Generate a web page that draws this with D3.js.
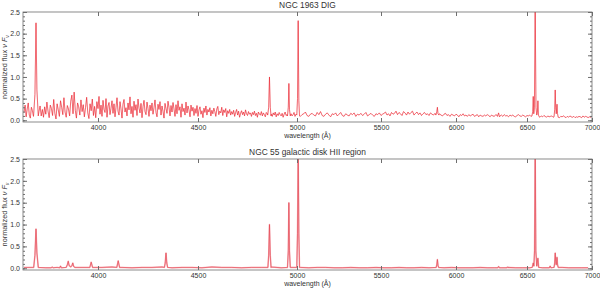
<!DOCTYPE html>
<html>
<head>
<meta charset="utf-8">
<script src="https://cdn.jsdelivr.net/npm/d3@7/dist/d3.min.js"></script>
<style>
  body { margin: 0; background: #fff; }
  text { font-family: "Liberation Sans", Arial, Helvetica, sans-serif; fill: #333; }
</style>
</head>
<body>
<div id="chart"></div>
<script>
// ---- data ----
// top panel, blue part: every 5 A from 3670 A
const topBlueStart = 3670, topBlueStep = 5;
const topBlueFlux = [
  0.18, 0.35, 0.08, 0.26, 0.40, 0.12, 0.05, 0.30, 0.22, 0.09, 0.28, 0.15, 0.36, 0.04, 0.20, 0.33, 0.10, 0.25, 0.07, 0.31,
  0.14, 0.42, 0.21, 0.06, 0.35, 0.27, 0.11, 0.48, 0.16, 0.03, 0.38, 0.24, 0.09, 0.45, 0.30, 0.13, 0.52, 0.19, 0.07, 0.34,
  0.26, 0.10, 0.44, 0.58, 0.15, 0.65, 0.23, 0.05, 0.40, 0.31, 0.12, 0.47, 0.20, 0.36, 0.08, 0.29, 0.53, 0.17, 0.04, 0.38,
  0.22, 0.49, 0.11, 0.32, 0.06, 0.43, 0.27, 0.55, 0.14, 0.35, 0.09, 0.46, 0.25, 0.18, 0.50, 0.07, 0.33, 0.41, 0.13, 0.28,
  0.45, 0.16, 0.38, 0.08, 0.30, 0.52, 0.21, 0.12, 0.43, 0.26, 0.05, 0.37, 0.48, 0.19, 0.29, 0.10, 0.40, 0.24, 0.54, 0.15,
  0.32, 0.07, 0.44, 0.23, 0.36, 0.11, 0.49, 0.28, 0.17, 0.39, 0.06, 0.31, 0.46, 0.20, 0.13, 0.42, 0.27, 0.09, 0.35, 0.22,
  0.40, 0.14, 0.29, 0.47, 0.18, 0.08, 0.37, 0.25, 0.43, 0.12, 0.33, 0.21, 0.05, 0.39, 0.27, 0.16, 0.44, 0.30, 0.10, 0.34,
  0.19, 0.41, 0.26, 0.09, 0.36, 0.15, 0.45, 0.23, 0.31, 0.07, 0.38, 0.20, 0.28, 0.12, 0.42, 0.17, 0.33, 0.24, 0.08, 0.35,
  0.21, 0.30, 0.11, 0.27, 0.16, 0.34, 0.09, 0.24, 0.31, 0.14, 0.22, 0.06, 0.28, 0.18, 0.33, 0.12, 0.25, 0.19, 0.29, 0.10,
  0.23, 0.15, 0.28, 0.20, 0.09, 0.26, 0.32, 0.13, 0.21, 0.17, 0.30, 0.11, 0.24, 0.18, 0.27, 0.08, 0.22, 0.16, 0.25, 0.12,
  0.20, 0.14, 0.23, 0.09, 0.18, 0.25, 0.12, 0.21, 0.07, 0.16, 0.22, 0.13, 0.19, 0.10, 0.24, 0.15, 0.11, 0.20, 0.14, 0.17,
  0.09, 0.18, 0.13, 0.21, 0.11, 0.16, 0.07, 0.19, 0.14, 0.12, 0.20, 0.10, 0.17, 0.13, 0.08, 0.18, 0.15, 0.11, 0.16, 0.12,
  0.14, 0.09, 0.17, 0.12, 0.19, 0.08, 0.15, 0.11, 0.18, 0.13, 0.10, 0.16, 0.07, 0.14, 0.19, 0.11, 0.13, 0.09, 0.17, 0.12,
  0.15, 0.10, 0.13, 0.18, 0.09, 0.14
];
// top panel, red part: every 10 A from 5000 A
const topRedStart = 5000, topRedStep = 10;
const topRedFlux = [
  0.12, 0.17, 0.09, 0.13, 0.15, 0.19, 0.11, 0.09, 0.14, 0.16,
  0.12, 0.10, 0.18, 0.13, 0.20, 0.11, 0.09, 0.14, 0.17, 0.12,
  0.08, 0.15, 0.13, 0.17, 0.10, 0.14, 0.18, 0.11, 0.09, 0.15,
  0.12, 0.10, 0.16, 0.13, 0.17, 0.09, 0.14, 0.12, 0.16, 0.11,
  0.14, 0.18, 0.10, 0.13, 0.16, 0.12, 0.09, 0.15, 0.13, 0.17,
  0.11, 0.14, 0.16, 0.19, 0.12, 0.15, 0.10, 0.18, 0.14, 0.16,
  0.21, 0.13, 0.18, 0.15, 0.11, 0.20, 0.17, 0.12, 0.19, 0.14,
  0.18, 0.21, 0.12, 0.16, 0.19, 0.13, 0.17, 0.11, 0.15, 0.18,
  0.13, 0.15, 0.11, 0.17, 0.14, 0.12, 0.16, 0.10, 0.14, 0.15,
  0.12, 0.10, 0.14, 0.16, 0.11, 0.13, 0.09, 0.14, 0.12, 0.10,
  0.14, 0.12, 0.08, 0.13, 0.11, 0.15, 0.10, 0.12, 0.09, 0.13,
  0.10, 0.12, 0.14, 0.09, 0.11, 0.13, 0.08, 0.12, 0.10, 0.09,
  0.12, 0.10, 0.13, 0.11, 0.08, 0.12, 0.10, 0.09, 0.13, 0.11,
  0.08, 0.10, 0.12, 0.09, 0.13, 0.10, 0.11, 0.08, 0.12, 0.10,
  0.12, 0.09, 0.08, 0.11, 0.13, 0.10, 0.09, 0.12, 0.10, 0.08,
  0.11, 0.10, 0.12, 0.09, 0.11, 0.08, 0.10, 0.12, 0.09, 0.09,
  0.07, 0.10, 0.08, 0.11, 0.09, 0.07, 0.10, 0.08, 0.09, 0.10,
  0.07, 0.08, 0.09, 0.11, 0.08, 0.06, 0.09, 0.08, 0.10, 0.08,
  0.06, 0.09, 0.07, 0.10, 0.08, 0.07, 0.09, 0.06, 0.08, 0.07,
  0.09, 0.08, 0.06, 0.10, 0.07, 0.09, 0.08, 0.06, 0.08, 0.07,
  0.09
];
// emission lines of the top panel: [wavelength, flux] profiles
const topLines = [
  [[3716, 0.15], [3722, 0.6], [3727, 2.25], [3731, 0.7], [3737, 0.1]],
  [[4852, 0.12], [4857, 0.3], [4861, 1.0], [4865, 0.3], [4869, 0.1]],
  [[4952, 0.1], [4956, 0.3], [4959, 0.85], [4962, 0.25], [4966, 0.1]],
  [[4999, 0.12], [5003, 0.5], [5007, 2.3], [5011, 0.45], [5015, 0.1]],
  [[5866, 0.12], [5872, 0.2], [5876, 0.3], [5880, 0.15], [5886, 0.12]],
  [[6292, 0.09], [6300, 0.17], [6306, 0.08]],
  [[6538, 0.1], [6544, 0.2], [6548, 0.55], [6552, 0.15], [6557, 0.3], [6563, 2.7],
   [6569, 0.3], [6575, 0.12], [6580, 0.18], [6584, 0.45], [6588, 0.12], [6594, 0.08]],
  [[6708, 0.08], [6713, 0.25], [6717, 0.7], [6721, 0.3], [6725, 0.15], [6731, 0.37],
   [6735, 0.15], [6740, 0.07]]
];

// bottom panel continuum, sampled every 50 A starting at 3670 A
const bottomStart = 3670, bottomStep = 50;
const bottomFlux = [
  0.02, 0.03, 0.01, 0.02, 0.03, 0.02, 0.01, 0.02, 0.03, 0.02,
  0.01, 0.02, 0.02, 0.03, 0.01, 0.02, 0.02, 0.01, 0.03, 0.02,
  0.02, 0.01, 0.02, 0.02, 0.03, 0.01, 0.02, 0.02, 0.01, 0.02,
  0.02, 0.01, 0.01, 0.02, 0.01, 0.01, 0.02, 0.01, 0.01, 0.02,
  0.01, 0.01, 0.02, 0.01, 0.01, 0.01, 0.02, 0.01, 0.01, 0.01,
  0.02, 0.01, 0.01, 0.01, 0.02, 0.01, 0.01, 0.01, 0.02, 0.01,
  0.01, 0.01, 0.02, 0.01, 0.01, 0.01, 0.01
];
const bottomLines = [
  [[3716, 0.02], [3722, 0.3], [3727, 0.9], [3731, 0.35], [3737, 0.02]],
  [[3794, 0.01], [3798, 0.03], [3802, 0.01]],
  [[3831, 0.01], [3835, 0.05], [3839, 0.01]],
  [[3860, 0.02], [3865, 0.08], [3869, 0.16], [3873, 0.06], [3880, 0.03],
   [3885, 0.06], [3889, 0.12], [3893, 0.04], [3898, 0.02]],
  [[3964, 0.02], [3970, 0.14], [3976, 0.02]],
  [[4094, 0.02], [4101, 0.17], [4108, 0.02]],
  [[4332, 0.02], [4336, 0.12], [4340, 0.35], [4344, 0.12], [4348, 0.02]],
  [[4853, 0.02], [4857, 0.3], [4861, 1.0], [4865, 0.3], [4869, 0.02]],
  [[4952, 0.02], [4956, 0.4], [4959, 1.5], [4962, 0.4], [4966, 0.02]],
  [[4999, 0.02], [5003, 0.8], [5007, 2.7], [5011, 0.8], [5015, 0.02]],
  [[5868, 0.02], [5872, 0.08], [5876, 0.2], [5880, 0.07], [5884, 0.02]],
  [[6294, 0.01], [6300, 0.04], [6306, 0.01]],
  [[6358, 0.01], [6363, 0.03], [6368, 0.01]],
  [[6540, 0.02], [6548, 0.12], [6553, 0.05], [6558, 0.4], [6563, 2.7], [6568, 0.4],
   [6575, 0.05], [6584, 0.23], [6590, 0.02]],
  [[6672, 0.01], [6678, 0.05], [6684, 0.01]],
  [[6708, 0.02], [6713, 0.12], [6717, 0.35], [6721, 0.15], [6725, 0.08], [6731, 0.25],
   [6735, 0.08], [6740, 0.02]]
];

const xTicks = [4000, 4500, 5000, 5500, 6000, 6500, 7000];
const yMajor = [0, 0.5, 1.0, 1.5, 2.0, 2.5];
const yMinor = d3.range(0, 26).map(d => d / 10);
// wavelength calibration read from the axis (non-linear, piecewise)
const xKnotsWl = [3665, 3727, 4000, 4500, 5000, 5500, 6000, 6500, 7000];

const panels = [
  { title: 'NGC 1963 DIG', top: 12, bottom: 122, lines: topLines,
    parts: [[topBlueStart, topBlueStep, topBlueFlux], [topRedStart, topRedStep, topRedFlux]],
    under: 0.7, underColor: '#f7a9b0', main: '#e8141f' },
  { title: 'NGC 55 galactic disk HII region', top: 159, bottom: 270, lines: bottomLines,
    parts: [[bottomStart, bottomStep, bottomFlux]],
    under: 1.5, underColor: '#f5aab2', main: '#e0303c' }
];

// ---- layout ----
const width = 600, height = 289;
const left = 23, right = 592;
const axisColor = '#6e6e6e';

const svg = d3.select('#chart').append('svg')
  .attr('width', width).attr('height', height)
  .attr('viewBox', `0 0 ${width} ${height}`);

const x = d3.scaleLinear()
  .domain(xKnotsWl)
  .range([left, 36, 98, 198, 297, 381, 456, 527, right]);

function buildSeries(p) {
  const cont = [];
  p.parts.forEach(([start, step, flux]) => {
    flux.forEach((f, i) => cont.push([start + i * step, f]));
  });
  const kept = cont.filter(([w]) => !p.lines.some(g => w >= g[0][0] && w <= g[g.length - 1][0]));
  return kept.concat(...p.lines).sort((a, b) => a[0] - b[0]);
}

panels.forEach((p, i) => {
  const y = d3.scaleLinear().domain([-0.04, 2.5]).range([p.bottom, p.top]);
  const g = svg.append('g');

  // title
  g.append('text')
    .attr('x', (left + right) / 2).attr('y', p.top - 4)
    .attr('text-anchor', 'middle')
    .attr('font-size', 8.4)
    .text(p.title);

  // clip
  g.append('clipPath').attr('id', `clip${i}`)
    .append('rect')
    .attr('x', left).attr('y', p.top)
    .attr('width', right - left).attr('height', p.bottom - p.top);

  const series = buildSeries(p);
  const line = d3.line().x(d => x(d[0])).y(d => y(d[1]));
  const plot = g.append('g').attr('clip-path', `url(#clip${i})`);
  plot.append('path')
    .attr('d', line(series))
    .attr('fill', 'none')
    .attr('stroke', p.underColor)
    .attr('stroke-width', p.under)
    .attr('stroke-linejoin', 'round');
  plot.append('path')
    .attr('d', line(series))
    .attr('fill', 'none')
    .attr('stroke', p.main)
    .attr('stroke-width', 0.5)
    .attr('stroke-linejoin', 'round');

  // axes (ticks point inward)
  const ax = (sel) => sel.call(s => s.select('.domain').remove())
    .call(s => s.selectAll('line').attr('stroke', axisColor))
    .call(s => s.selectAll('text').attr('font-size', 7).attr('fill', '#333')
      .attr('font-family', '"Liberation Sans", Arial, sans-serif'));

  g.append('g').attr('transform', `translate(${left},0)`)
    .call(d3.axisLeft(y).tickValues(yMinor).tickSize(-2).tickFormat('')).call(ax);
  g.append('g').attr('transform', `translate(${left},0)`)
    .call(d3.axisLeft(y).tickValues(yMajor).tickSize(-4).tickPadding(3).tickFormat(d3.format('.1f'))).call(ax);
  g.append('g').attr('transform', `translate(${right},0)`)
    .call(d3.axisRight(y).tickValues(yMinor).tickSize(-2).tickFormat('')).call(ax);
  g.append('g').attr('transform', `translate(${right},0)`)
    .call(d3.axisRight(y).tickValues(yMajor).tickSize(-4).tickFormat('')).call(ax);
  g.append('g').attr('transform', `translate(0,${p.top})`)
    .call(d3.axisTop(x).tickValues(xTicks).tickSize(-4).tickFormat('')).call(ax);
  g.append('g').attr('transform', `translate(0,${p.bottom})`)
    .call(d3.axisBottom(x).tickValues(xTicks).tickSize(-4).tickPadding(3).tickFormat(d3.format('d'))).call(ax);

  // frame
  g.append('rect')
    .attr('x', left).attr('y', p.top)
    .attr('width', right - left).attr('height', p.bottom - p.top)
    .attr('fill', 'none').attr('stroke', axisColor).attr('stroke-width', 0.8);

  // axis titles
  g.append('text')
    .attr('x', (left + right) / 2).attr('y', p.bottom + 16)
    .attr('text-anchor', 'middle')
    .attr('font-size', 7)
    .text('wavelength (Å)');

  const yl = g.append('text')
    .attr('transform', `translate(7,${(p.top + p.bottom) / 2}) rotate(-90)`)
    .attr('text-anchor', 'middle')
    .attr('font-size', 7.3);
  yl.append('tspan').text('normalized flux  ');
  yl.append('tspan').attr('font-style', 'italic').text('ν F');
  yl.append('tspan').attr('font-style', 'italic').attr('font-size', 5).attr('dy', 1.5).text('ν');
});
</script>
</body>
</html>
